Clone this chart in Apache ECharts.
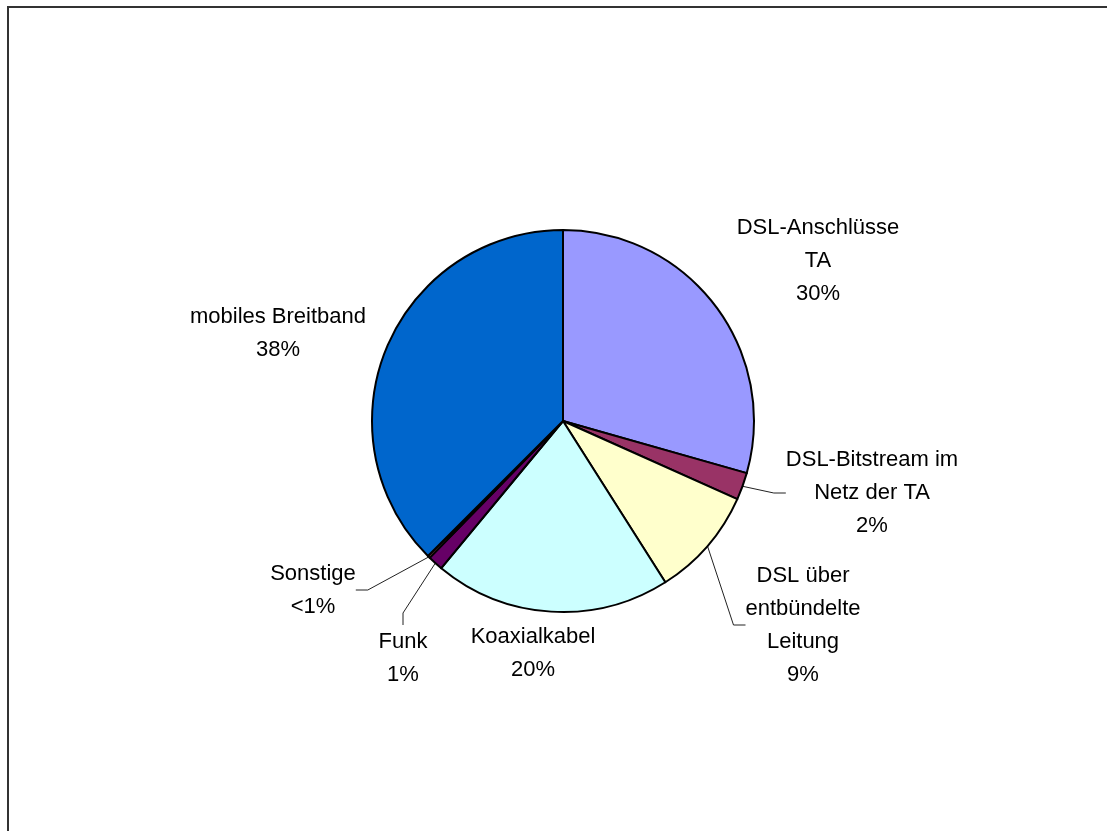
<!DOCTYPE html>
<html>
<head>
<meta charset="utf-8">
<script src="https://cdn.jsdelivr.net/npm/echarts@6/dist/echarts.min.js"></script>
<style>
  html, body { margin: 0; padding: 0; background: #fff; }
  #chartDiv { width: 1107px; height: 831px; }
</style>
</head>
<body>
<div id="chartDiv"></div>
<script>
// Anteile der Breitbandanschlüsse (Schätzwerte aus der Grafik, in %)
const categories = [
  'DSL-Anschlüsse\nTA',
  'DSL-Bitstream im\nNetz der TA',
  'DSL über\nentbündelte\nLeitung',
  'Koaxialkabel',
  'Funk',
  'Sonstige',
  'mobiles Breitband'
];
const shares = [29.4, 2.3, 9.3, 20.0, 1.3, 0.2, 37.5];
const shareLabels = ['30%', '2%', '9%', '20%', '1%', '<1%', '38%'];

const sliceColors = ['#9999FF', '#993366', '#FFFFCC', '#CCFFFF', '#660066', '#FF8080', '#0066CC'];
// Lage der Beschriftungen (Textmitte) wie in der Vorlage
const labelSpots = [
  [818, 261], [872, 493], [803, 625], [533, 653], [403, 658], [313, 590], [278, 333]
];
const withLeader = [false, true, true, false, true, true, false];

const chart = echarts.init(document.getElementById('chartDiv'));

const pieData = categories.map((name, i) => ({
  name: name,
  value: shares[i],
  itemStyle: { color: sliceColors[i] },
  labelLine: { show: withLeader[i] }
}));

const option = {
  animation: false,
  backgroundColor: '#fff',
  graphic: [{
    type: 'rect',
    shape: { x: 8, y: 7, width: 1120, height: 840 },
    style: { fill: 'none', stroke: '#333', lineWidth: 2 }
  }],
  series: [{
    type: 'pie',
    center: [563, 421],
    radius: 191,
    startAngle: 90,
    clockwise: true,
    avoidLabelOverlap: false,
    itemStyle: { borderColor: '#000', borderWidth: 2 },
    label: {
      show: true,
      position: 'outside',
      color: '#000',
      fontFamily: '"Liberation Sans", Arial, sans-serif',
      fontSize: 22,
      lineHeight: 33,
      align: 'center',
      formatter: (p) => p.name + '\n' + shareLabels[p.dataIndex]
    },
    labelLine: {
      show: true,
      length: 15,
      length2: 12,
      lineStyle: { color: '#222', width: 1 }
    },
    labelLayout: (params) => {
      const spot = labelSpots[params.dataIndex];
      return {
        x: spot[0],
        y: spot[1],
        align: 'center',
        verticalAlign: 'middle'
      };
    },
    emphasis: { disabled: true },
    data: pieData
  }]
};

chart.setOption(option);
</script>
</body>
</html>
